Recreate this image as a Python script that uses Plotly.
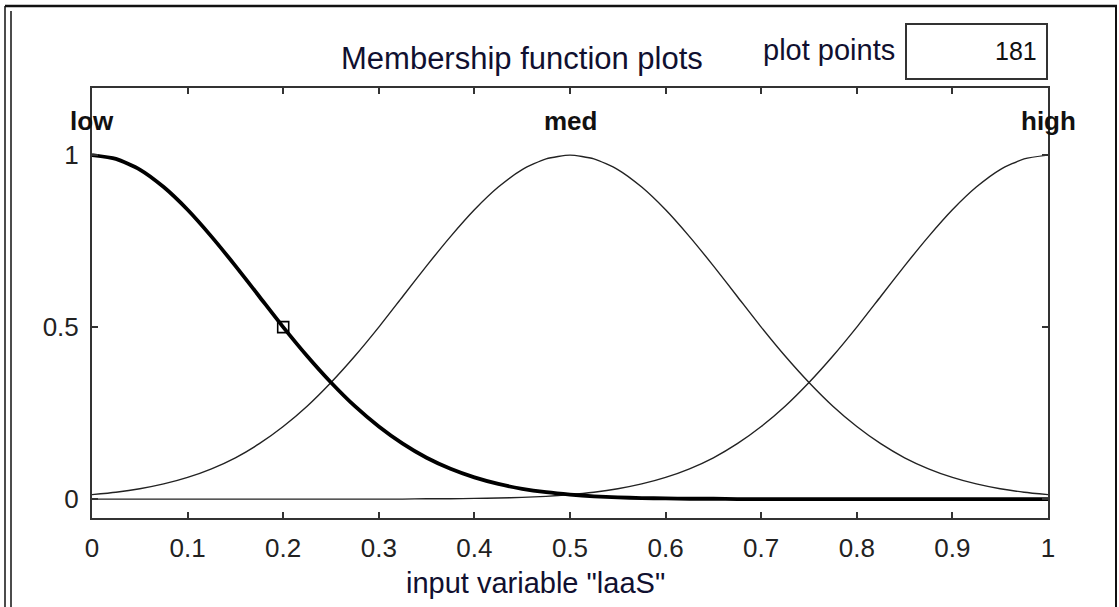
import plotly.graph_objects as go

# ---- data ----
x_vals = [0.0, 0.025, 0.05, 0.075, 0.1, 0.125, 0.15, 0.175, 0.2, 0.225, 0.25,
          0.275, 0.3, 0.325, 0.35, 0.375, 0.4, 0.425, 0.45, 0.475, 0.5,
          0.525, 0.55, 0.575, 0.6, 0.625, 0.65, 0.675, 0.7, 0.725, 0.75,
          0.775, 0.8, 0.825, 0.85, 0.875, 0.9, 0.925, 0.95, 0.975, 1.0]
low_vals = [1.0, 0.989, 0.958, 0.907, 0.841, 0.763, 0.678, 0.589, 0.50, 0.416, 0.339,
            0.270, 0.211, 0.161, 0.120, 0.088, 0.063, 0.044, 0.030, 0.020, 0.013,
            0.008, 0.005, 0.003, 0.002, 0.001, 0.001, 0.0, 0.0, 0.0, 0.0,
            0.0, 0.0, 0.0, 0.0, 0.0, 0.0, 0.0, 0.0, 0.0, 0.0]
med_vals = [0.013, 0.020, 0.030, 0.044, 0.063, 0.088, 0.120, 0.161, 0.211, 0.270, 0.339,
            0.416, 0.50, 0.589, 0.678, 0.763, 0.841, 0.907, 0.958, 0.989, 1.0,
            0.989, 0.958, 0.907, 0.841, 0.763, 0.678, 0.589, 0.50, 0.416, 0.339,
            0.270, 0.211, 0.161, 0.120, 0.088, 0.063, 0.044, 0.030, 0.020, 0.013]
high_vals = [0.0, 0.0, 0.0, 0.0, 0.0, 0.0, 0.0, 0.0, 0.0, 0.0, 0.0,
             0.0, 0.0, 0.0, 0.001, 0.001, 0.002, 0.003, 0.005, 0.008, 0.013,
             0.020, 0.030, 0.044, 0.063, 0.088, 0.120, 0.161, 0.211, 0.270, 0.339,
             0.416, 0.50, 0.589, 0.678, 0.763, 0.841, 0.907, 0.958, 0.989, 1.0]
mf_names = ["low", "med", "high"]
mf_centers = [0.0, 0.5, 1.0]
marker_x = [0.2]
marker_y = [0.5]
x_ticks = [0, 0.1, 0.2, 0.3, 0.4, 0.5, 0.6, 0.7, 0.8, 0.9, 1]
x_tick_labels = ["0", "0.1", "0.2", "0.3", "0.4", "0.5", "0.6", "0.7", "0.8", "0.9", "1"]
y_ticks = [0, 0.5, 1]
y_tick_labels = ["0", "0.5", "1"]
plot_points = "181"

FONT = "Arial, Liberation Sans, sans-serif"
TXT = "#101030"

fig = go.Figure()
fig.add_trace(go.Scatter(x=x_vals, y=med_vals, mode="lines",
                         line=dict(color="#222", width=1.4, shape="spline", smoothing=0.6),
                         showlegend=False, hoverinfo="skip"))
fig.add_trace(go.Scatter(x=x_vals, y=high_vals, mode="lines",
                         line=dict(color="#222", width=1.4, shape="spline", smoothing=0.6),
                         showlegend=False, hoverinfo="skip"))
fig.add_trace(go.Scatter(x=x_vals, y=low_vals, mode="lines",
                         line=dict(color="black", width=3.8, shape="spline", smoothing=0.6),
                         showlegend=False, hoverinfo="skip"))
fig.add_trace(go.Scatter(x=marker_x, y=marker_y, mode="markers",
                         marker=dict(symbol="square-open", size=11, color="black",
                                     line=dict(width=1.6, color="black")),
                         showlegend=False, hoverinfo="skip"))

for name, cx in zip(mf_names, mf_centers):
    fig.add_annotation(x=cx, y=1.1, xref="x", yref="y", text="<b>" + name + "</b>",
                       showarrow=False,
                       font=dict(family=FONT, size=26, color="#111"), xanchor="center",
                       yanchor="middle")

W, H = 1119, 607
L, R, T, B = 92, 1048, 88, 518  # target pixel positions in the window


def px(v):
    return (v - L) / (R - L)


def py(v):
    return (B - v) / (B - T)


# outer frame
frame = [
    (5, 6, 5, 607, 1.5), (11, 11, 11, 607, 1.5),
    (5, 6, 1117, 6, 2.5), (1116, 6, 1116, 607, 2),
]
for x0, y0, x1, y1, w in frame:
    fig.add_shape(type="line", xref="paper", yref="paper",
                  x0=px(x0), y0=py(y0), x1=px(x1), y1=py(y1),
                  line=dict(color="#111", width=w))

# plot points box
fig.add_shape(type="rect", xref="paper", yref="paper",
              x0=px(906), y0=py(24), x1=px(1047), y1=py(79),
              line=dict(color="#333", width=2), fillcolor="white")
fig.add_annotation(xref="paper", yref="paper", x=px(1039), y=py(51), text=plot_points,
                   showarrow=False, xanchor="right", yanchor="middle",
                   font=dict(family=FONT, size=25, color="#111"))
fig.add_annotation(xref="paper", yref="paper", x=px(897), y=py(50), text="plot points",
                   showarrow=False, xanchor="right", yanchor="middle",
                   font=dict(family=FONT, size=29, color=TXT))
fig.add_annotation(xref="paper", yref="paper", x=px(522), y=py(58),
                   text="Membership function plots", showarrow=False,
                   xanchor="center", yanchor="middle",
                   font=dict(family=FONT, size=31, color=TXT))
fig.add_annotation(xref="paper", yref="paper", x=px(535), y=py(583),
                   text='input variable "laaS"', showarrow=False,
                   xanchor="center", yanchor="middle",
                   font=dict(family=FONT, size=29, color=TXT))

axis_common = dict(showline=True, linecolor="#333", linewidth=2, mirror="ticks",
                   ticks="inside", ticklen=6, tickwidth=1.5, tickcolor="#333",
                   showgrid=False, zeroline=False,
                   tickfont=dict(family=FONT, size=26, color="#222"))
fig.update_xaxes(range=[0, 1], tickvals=x_ticks, ticktext=x_tick_labels,
                 ticklabelstandoff=6, **axis_common)
fig.update_yaxes(range=[-0.055, 1.195], tickvals=y_ticks, ticktext=y_tick_labels,
                 ticklabelstandoff=6, **axis_common)

fig.update_layout(width=W, height=H, plot_bgcolor="white", paper_bgcolor="white",
                  margin=dict(l=L, r=W - R, t=T, b=H - B, autoexpand=False))

fig.write_html("out.html",
               config={"displayModeBar": False},
               post_script="document.body.style.margin='0';"
                           "document.body.style.overflow='hidden';")
